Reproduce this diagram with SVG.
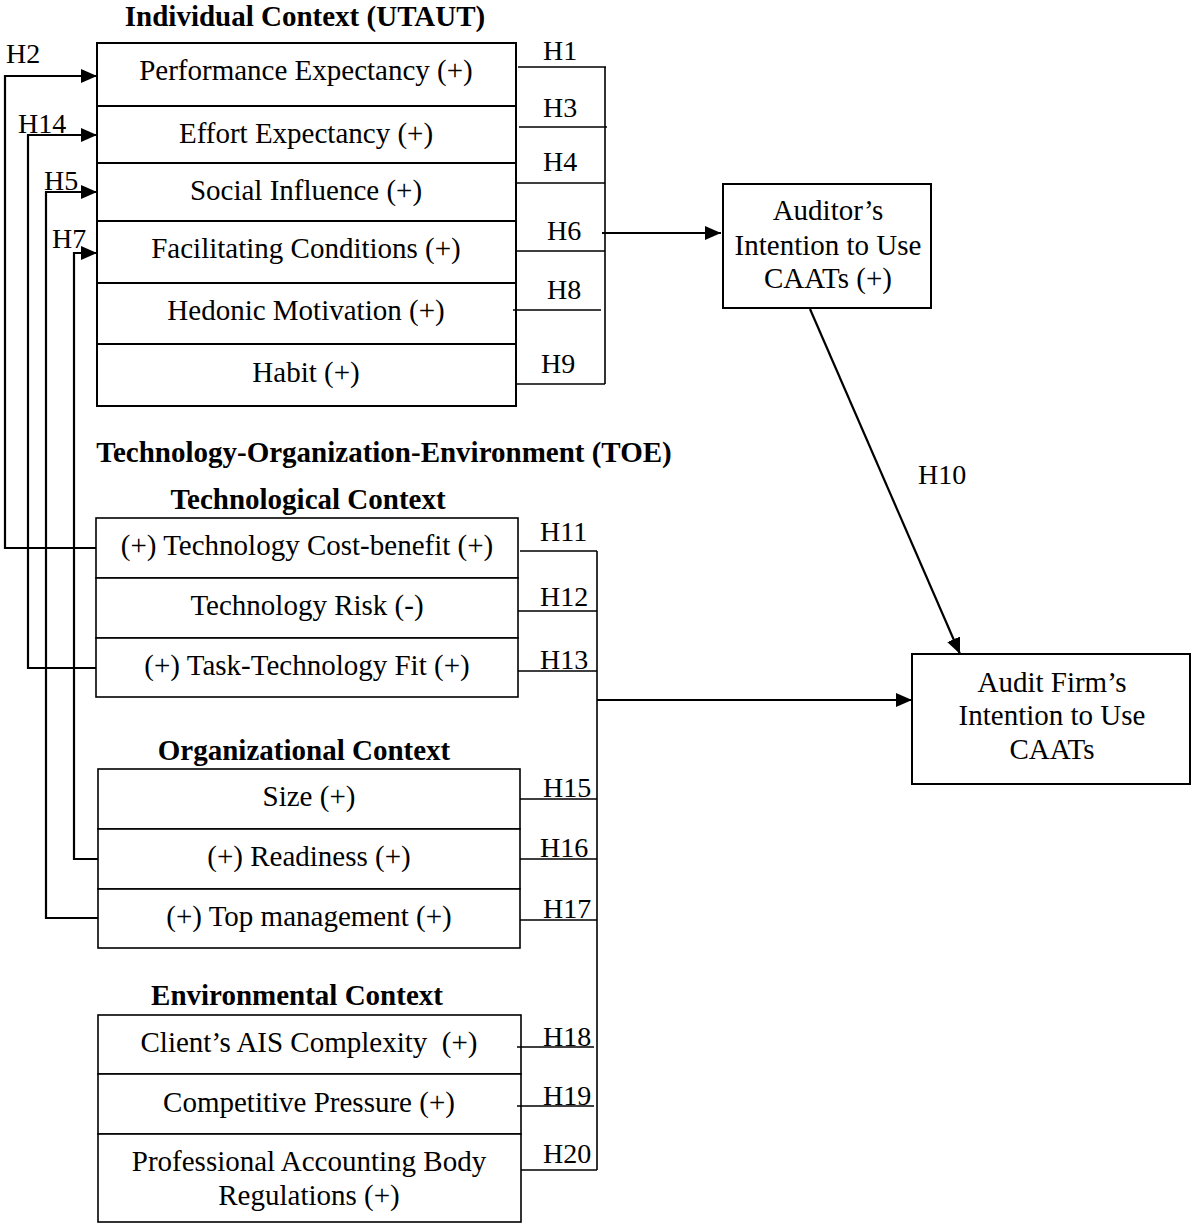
<svg xmlns="http://www.w3.org/2000/svg" width="1192" height="1225" viewBox="0 0 1192 1225">
<defs>
<marker id="arr" markerUnits="userSpaceOnUse" markerWidth="16" markerHeight="14" refX="16" refY="7" orient="auto"><path d="M0,0 L16,7 L0,14 Z" fill="#000"/></marker>
</defs>
<style>
text{font-family:"Liberation Serif","Times New Roman",serif;fill:#000}
.t{font-size:29px;text-anchor:middle}
.b{font-size:29px;font-weight:bold;text-anchor:middle}
.h{font-size:28px}
.box{fill:#fff;stroke:#000;stroke-width:2}
.box2{fill:#fff;stroke:#000;stroke-width:1.6}
.ln{fill:none;stroke:#000;stroke-width:2.2}
.thin{fill:none;stroke:#000;stroke-width:1.6}
</style>
<rect width="1192" height="1225" fill="#fff"/>

<g id="titles">
<text class="b" x="305" y="26">Individual Context (UTAUT)</text>
<text class="b" x="384" y="462">Technology-Organization-Environment (TOE)</text>
<text class="b" x="308" y="509">Technological Context</text>
<text class="b" x="304" y="760">Organizational Context</text>
<text class="b" x="297" y="1005">Environmental Context</text>
</g>

<g id="performance-expectancy"><rect class="box" x="97" y="43" width="419" height="63"/><text class="t" x="306" y="80">Performance Expectancy (+)</text></g>
<g id="effort-expectancy"><rect class="box" x="97" y="106" width="419" height="57"/><text class="t" x="306" y="143">Effort Expectancy (+)</text></g>
<g id="social-influence"><rect class="box" x="97" y="163" width="419" height="58"/><text class="t" x="306" y="200">Social Influence (+)</text></g>
<g id="facilitating-conditions"><rect class="box" x="97" y="221" width="419" height="62"/><text class="t" x="306" y="258">Facilitating Conditions (+)</text></g>
<g id="hedonic-motivation"><rect class="box" x="97" y="283" width="419" height="61"/><text class="t" x="306" y="320">Hedonic Motivation (+)</text></g>
<g id="habit"><rect class="box" x="97" y="344" width="419" height="62"/><text class="t" x="306" y="382">Habit (+)</text></g>

<g id="technology-cost-benefit"><rect class="box2" x="96" y="518" width="422" height="60"/><text class="t" x="307" y="555">(+) Technology Cost-benefit (+)</text></g>
<g id="technology-risk"><rect class="box2" x="96" y="578" width="422" height="60"/><text class="t" x="307" y="615">Technology Risk (-)</text></g>
<g id="task-technology-fit"><rect class="box2" x="96" y="638" width="422" height="59"/><text class="t" x="307" y="675">(+) Task-Technology Fit (+)</text></g>

<g id="size"><rect class="box2" x="98" y="769" width="422" height="60"/><text class="t" x="309" y="806">Size (+)</text></g>
<g id="readiness"><rect class="box2" x="98" y="829" width="422" height="60"/><text class="t" x="309" y="866">(+) Readiness (+)</text></g>
<g id="top-management"><rect class="box2" x="98" y="889" width="422" height="59"/><text class="t" x="309" y="926">(+) Top management (+)</text></g>

<g id="client-ais-complexity"><rect class="box2" x="98" y="1015" width="423" height="59"/><text class="t" x="309" y="1052">Client’s AIS Complexity&#160; (+)</text></g>
<g id="competitive-pressure"><rect class="box2" x="98" y="1074" width="423" height="60"/><text class="t" x="309" y="1112">Competitive Pressure (+)</text></g>
<g id="professional-regulations"><rect class="box2" x="98" y="1134" width="423" height="88"/><text class="t" x="309" y="1171">Professional Accounting Body</text><text class="t" x="309" y="1205">Regulations (+)</text></g>

<g id="auditor-intention"><rect class="box" x="723" y="184" width="208" height="124"/><text class="t" x="828" y="220">Auditor’s</text><text class="t" x="828" y="255">Intention to Use</text><text class="t" x="828" y="288">CAATs (+)</text></g>
<g id="audit-firm-intention"><rect class="box" x="912" y="654" width="278" height="130"/><text class="t" x="1052" y="692">Audit Firm’s</text><text class="t" x="1052" y="725">Intention to Use</text><text class="t" x="1052" y="759">CAATs</text></g>

<g id="connectors">
<path class="ln" d="M96,548 H5 V76 H97" marker-end="url(#arr)"/>
<path class="ln" d="M96,668 H28 V135 H97" marker-end="url(#arr)"/>
<path class="ln" d="M98,918 H46 V192 H97" marker-end="url(#arr)"/>
<path class="ln" d="M98,859 H74 V253 H97" marker-end="url(#arr)"/>

<path class="thin" d="M518,67 H606 M519,127 H607 M516,183 H605 M517,251 H605 M513,310 H601 M515,384 H605 M605,67 V384"/>
<path class="ln" d="M602,233 H721" marker-end="url(#arr)"/>

<path class="thin" d="M520,551 H597 M518,611 H597 M518,671 H597 M520,799 H597 M520,859 H597 M520,920 H597 M517,1047 H594 M517,1106 H594 M521,1170 H597 M597,551 V1170"/>
<path class="ln" d="M597,700 H912" marker-end="url(#arr)"/>
<path class="ln" d="M810,309 L960,654" marker-end="url(#arr)"/>

<g id="labels">
<text class="h" x="6" y="63">H2</text>
<text class="h" x="18" y="133">H14</text>
<text class="h" x="44" y="190">H5</text>
<text class="h" x="52" y="248">H7</text>
<text class="h" x="543" y="60">H1</text>
<text class="h" x="543" y="117">H3</text>
<text class="h" x="543" y="171">H4</text>
<text class="h" x="547" y="240">H6</text>
<text class="h" x="547" y="299">H8</text>
<text class="h" x="541" y="373">H9</text>
<text class="h" x="918" y="484">H10</text>
<text class="h" x="540" y="541">H11</text>
<text class="h" x="540" y="606">H12</text>
<text class="h" x="540" y="669">H13</text>
<text class="h" x="543" y="797">H15</text>
<text class="h" x="540" y="857">H16</text>
<text class="h" x="543" y="918">H17</text>
<text class="h" x="543" y="1046">H18</text>
<text class="h" x="543" y="1105">H19</text>
<text class="h" x="543" y="1163">H20</text>
</g>
</g>
</svg>
